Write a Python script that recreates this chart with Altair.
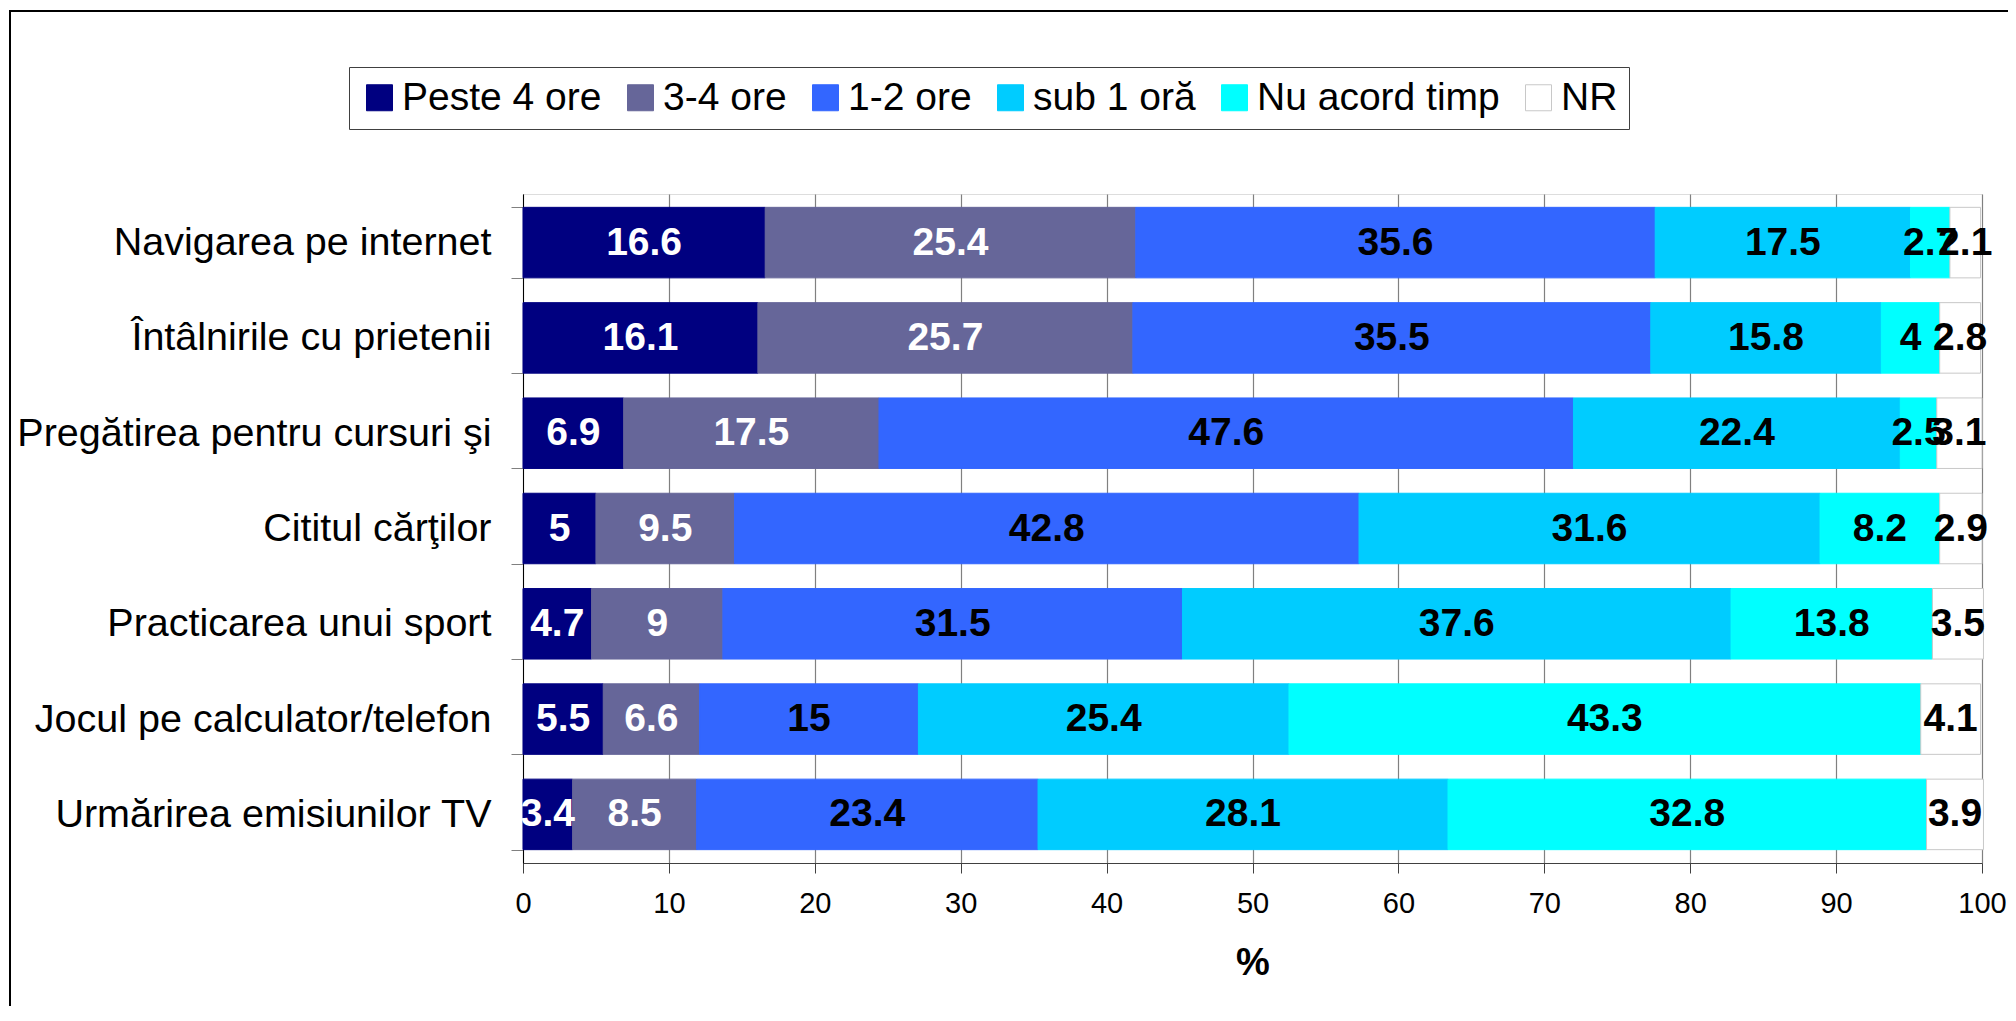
import altair as alt
import pandas as pd

categories = [
    "Navigarea pe internet",
    "Întâlnirile cu prietenii",
    "Pregătirea pentru cursuri şi",
    "Cititul cărţilor",
    "Practicarea unui sport",
    "Jocul pe calculator/telefon",
    "Urmărirea emisiunilor TV",
]
series = ["Peste 4 ore", "3-4 ore", "1-2 ore", "sub 1 oră", "Nu acord timp", "NR"]

peste4 = [16.6, 16.1, 6.9, 5, 4.7, 5.5, 3.4]
ore34 = [25.4, 25.7, 17.5, 9.5, 9, 6.6, 8.5]
ore12 = [35.6, 35.5, 47.6, 42.8, 31.5, 15, 23.4]
sub1 = [17.5, 15.8, 22.4, 31.6, 37.6, 25.4, 28.1]
nu_acord = [2.7, 4, 2.5, 8.2, 13.8, 43.3, 32.8]
nr = [2.1, 2.8, 3.1, 2.9, 3.5, 4.1, 3.9]

fill_colors = ["#000080", "#666699", "#3366FF", "#00CCFF", "#00FFFF", "#FFFFFF"]
stroke_colors = ["#000080", "#666699", "#3366FF", "#00CCFF", "#00FFFF", "#C8C8C8"]
x_ticks = list(range(0, 101, 10))

FONT = "Liberation Sans"

rows = []
for s_idx, (s, vals) in enumerate(zip(series, [peste4, ore34, ore12, sub1, nu_acord, nr])):
    for c, v in zip(categories, vals):
        rows.append({"category": c, "series": s, "sidx": s_idx, "value": v,
                     "label": "{:g}".format(v)})
df = pd.DataFrame(rows)

legend = alt.Legend(
    title=None, orient="none", legendX=-174, legendY=-127, direction="horizontal",
    labelFont=FONT, labelFontSize=39, labelColor="#000000", labelLimit=1000,
    symbolType="square", symbolSize=676, symbolStrokeWidth=1,
    labelOffset=3, columnPadding=19, padding=11,
    strokeColor="#404040", fillColor="#FFFFFF",
)

y_enc = alt.Y(
    "category:N", sort=categories,
    scale=alt.Scale(paddingInner=0.26, paddingOuter=0.14),
    axis=alt.Axis(title=None, labelFont=FONT, labelFontSize=39.5, labelColor="#000000",
                  tickBand="extent", tickSize=12, tickColor="#808080",
                  domainColor="#000000", labelPadding=20, labelLimit=1000, grid=False),
)

base = alt.Chart(df).transform_stack(
    stack="value", groupby=["category"], as_=["x0", "x1"],
    sort=[alt.SortField("sidx", order="ascending")],
)

bars = base.mark_bar(strokeWidth=1).encode(
    y=y_enc,
    x=alt.X("x0:Q", scale=alt.Scale(domain=[0, 100], nice=False),
            axis=alt.Axis(values=x_ticks, grid=True, gridColor="#808080", gridWidth=1.2,
                          tickSize=10, tickColor="#404040", domainColor="#404040",
                          labelFont=FONT, labelFontSize=29, labelColor="#000000",
                          labelPadding=16, labelFlush=False,
                          title="%", titleFont=FONT, titleFontSize=38,
                          titleFontWeight="bold", titleColor="#000000", titlePadding=26)),
    x2="x1:Q",
    fill=alt.Fill("series:N", sort=series,
                  scale=alt.Scale(domain=series, range=fill_colors), legend=legend),
    stroke=alt.Stroke("series:N", sort=series,
                      scale=alt.Scale(domain=series, range=stroke_colors), legend=legend),
)

texts = base.transform_calculate(
    mid="(datum.x0 + datum.x1) / 2",
    lc="datum.sidx < 2 ? 'white' : 'black'",
).mark_text(font=FONT, fontSize=39, fontWeight="bold", baseline="middle", align="center").encode(
    y=alt.Y("category:N", sort=categories),
    x=alt.X("mid:Q"),
    text="label:N",
    color=alt.Color("lc:N", scale=None),
)

frame = alt.Chart(pd.DataFrame({"a": [0]})).mark_rect(
    fillOpacity=0, stroke="#000000", strokeWidth=2
).encode(
    x=alt.value(-513), x2=alt.value(1486), y=alt.value(-183), y2=alt.value(900)
)

chart = alt.layer(bars, texts, frame).properties(
    width=1459, height=669,
    autosize=alt.AutoSizeParams(type="none"),
    padding={"left": 515, "top": 186, "right": 26, "bottom": 143},
).configure_view(stroke="#808080", strokeWidth=1.5).configure(background="#FFFFFF")

chart.save("out.html", embed_options={"renderer": "svg", "actions": False})
